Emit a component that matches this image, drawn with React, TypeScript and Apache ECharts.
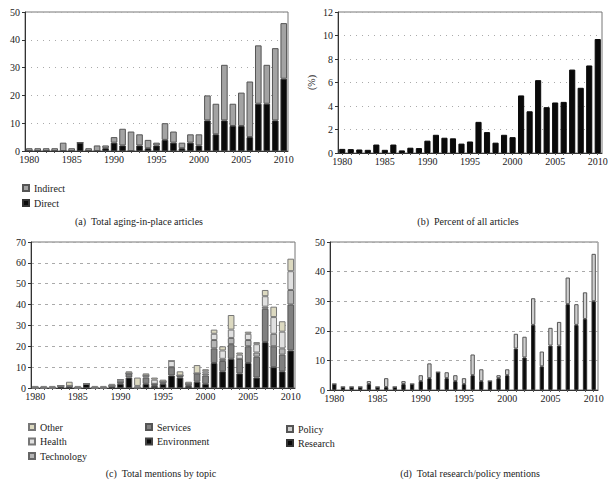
import React, { useEffect, useRef } from "react";
import * as echarts from "echarts";

const years = Array.from({ length: 31 }, (_, i) => String(1980 + i));

// (a) Total aging-in-place articles
const directA = [0,0,0,0,0,0,3,0,0,1,3,2,0,2,1,2,4,3,1,3,2,11,6,11,9,9,5,17,17,11,26];
const indirectA = [1,1,1,1,3,1,0,1,2,1,2,6,7,4,3,1,6,4,2,3,4,9,11,20,8,12,20,21,14,26,20];

// (b) Percent of all articles
const percentB = [0.35,0.33,0.3,0.27,0.72,0.27,0.72,0.22,0.45,0.42,1.05,1.55,1.3,1.25,0.8,0.98,2.65,1.78,0.88,1.55,1.35,4.9,3.55,6.2,3.9,4.3,4.35,7.1,5.55,7.45,9.7];

// (c) Total mentions by topic
const environmentC = [0,0,0,1,1,0,2,0,0,1,2,5,0,2,1,2,6,5,1,3,2,12,8,14,7,12,5,22,10,8,18];
const servicesC = [0,0,0,0,0,0,0,0,0,0,1,2,0,3,1,1,4,1,1,4,4,7,5,7,7,8,10,16,10,8,22];
const technologyC = [0,0,0,0,0,0,0,0,0,0,0,0,0,1,0,0,0,0,0,0,1,4,1,3,0,3,2,1,6,3,7];
const healthC = [0,0,0,0,0,0,0,0,0,0,1,0,1,0,2,0,3,0,0,0,1,3,4,4,2,3,4,5,8,8,9];
const otherC = [1,1,1,0,2,1,0,1,1,1,0,1,4,1,1,1,0,2,1,4,1,2,2,7,1,1,1,3,5,5,6];

// (d) Total research/policy mentions
const researchD = [2,1,1,1,2,1,1,1,2,2,3,4,6,4,3,2,5,3,3,4,5,14,11,22,8,15,15,29,22,24,30];
const policyD = [0,0,0,0,1,0,3,0,1,0,2,5,0,2,2,2,7,4,0,1,2,5,7,9,5,6,8,9,7,9,16];

const FONT = "'Liberation Serif', serif";

export default function App() {
  const ref = useRef<HTMLDivElement>(null);
  useEffect(() => {
    const chart = echarts.init(ref.current!, null, { renderer: "svg" });
    const grids = [
      { left: 25, top: 12, width: 263, height: 139 },
      { left: 338, top: 12, width: 264, height: 141 },
      { left: 31, top: 242, width: 264, height: 146 },
      { left: 330, top: 242, width: 268, height: 148 },
    ].map((g) => ({ ...g, show: true, borderColor: "#777", borderWidth: 1, backgroundColor: "transparent" }));

    const xAxes = grids.map((_, i) => ({
      type: "category",
      gridIndex: i,
      data: years,
      axisLine: { lineStyle: { color: "#333", width: 1 } },
      axisTick: { show: true, alignWithLabel: true, interval: 0, length: 2, lineStyle: { color: "#555" } },
      axisLabel: { interval: 4, fontFamily: FONT, fontSize: 10, color: "#222", margin: 3 },
    }));
    const yCfg = [
      { max: 50, interval: 10, type: "dotted" },
      { max: 12, interval: 2, type: "dotted" },
      { max: 70, interval: 10, type: "dashed" },
      { max: 50, interval: 10, type: "dashed" },
    ];
    const yAxes = yCfg.map((c, i) => ({
      type: "value",
      gridIndex: i,
      min: 0,
      max: c.max,
      interval: c.interval,
      name: i === 1 ? "(%)" : "",
      nameLocation: "middle",
      nameGap: 22,
      nameRotate: 90,
      nameTextStyle: { fontFamily: FONT, fontSize: 10, color: "#222" },
      axisLine: { show: true, lineStyle: { color: "#333", width: 1 } },
      axisTick: { show: true, length: 3, lineStyle: { color: "#333" } },
      axisLabel: { fontFamily: FONT, fontSize: 10, color: "#222", margin: 5 },
      splitLine: { show: true, lineStyle: { color: "#aaa", type: c.type === "dotted" ? [1, 5] : [3, 4] } },
    }));

    const bar = (name: string, data: number[], idx: number, color: string, border: string, stack?: string, gap = "22%") => ({
      name,
      type: "bar",
      xAxisIndex: idx,
      yAxisIndex: idx,
      stack,
      data,
      barCategoryGap: gap,
      itemStyle: { color, borderColor: border, borderWidth: 1 },
    });

    const legendBase = {
      orient: "vertical",
      icon: "rect",
      padding: 0,
      itemWidth: 6,
      itemHeight: 6,
      itemGap: 5,
      textStyle: { fontFamily: FONT, fontSize: 10, lineHeight: 10, color: "#222" },
      selectedMode: false,
    };

    chart.setOption({
      animation: false,
      backgroundColor: "#fff",
      textStyle: { fontFamily: FONT },
      grid: grids,
      xAxis: xAxes,
      yAxis: yAxes,
      legend: [
        { ...legendBase, left: 22, top: 183, data: ["Indirect", "Direct"] },
        { ...legendBase, left: 28, top: 422, itemGap: 4.5, data: ["Other", "Health", "Technology"] },
        { ...legendBase, left: 145, top: 422, itemGap: 4.5, data: ["Services", "Environment"] },
        { ...legendBase, left: 286, top: 424, itemGap: 4, data: ["Policy", "Research"] },
      ],
      title: [
        { text: "(a)  Total aging-in-place articles", left: 139, top: 216, textAlign: "center" },
        { text: "(b)  Percent of all articles", left: 468, top: 216, textAlign: "center" },
        { text: "(c)  Total mentions by topic", left: 161, top: 468, textAlign: "center" },
        { text: "(d)  Total research/policy mentions", left: 470, top: 468, textAlign: "center" },
      ].map((t) => ({ ...t, padding: 0, textStyle: { fontFamily: FONT, fontSize: 10, fontWeight: "normal", color: "#222" } })),
      series: [
        bar("Direct", directA, 0, "#0a0a0a", "#333", "a"),
        bar("Indirect", indirectA, 0, "#a3a3a3", "#555", "a"),
        bar("Percent", percentB, 1, "#0a0a0a", "#0a0a0a", undefined, "28%"),
        bar("Environment", environmentC, 2, "#0a0a0a", "#444", "c"),
        bar("Services", servicesC, 2, "#808080", "#555", "c"),
        bar("Technology", technologyC, 2, "#b4b4b4", "#666", "c"),
        bar("Health", healthC, 2, "#e0e0e0", "#777", "c"),
        bar("Other", otherC, 2, "#dcd9c0", "#777", "c"),
        bar("Research", researchD, 3, "#0a0a0a", "#333", "d", "50%"),
        bar("Policy", policyD, 3, "#cfcfcf", "#555", "d", "50%"),
      ],
    });
    return () => chart.dispose();
  }, []);
  return <div ref={ref} style={{ position: "absolute", left: 0, top: 0, width: 613, height: 484 }} />;
}
